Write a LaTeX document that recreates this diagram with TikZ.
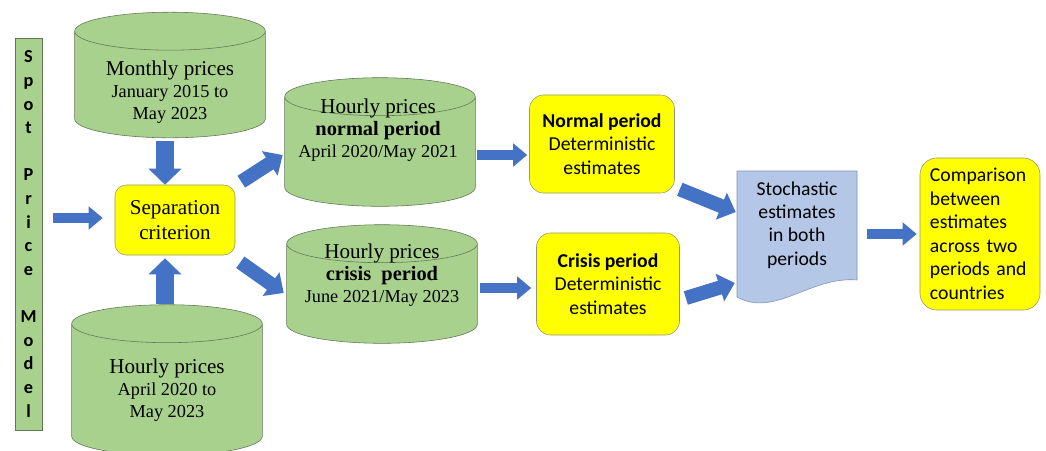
\documentclass[tikz,border=0pt]{standalone}
\usepackage{fontspec}
\setmainfont{Liberation Serif}
\setsansfont{Carlito}
\usetikzlibrary{arrows.meta,calc}

\definecolor{drumgreen}{RGB}{169,209,142}
\definecolor{drumline}{RGB}{96,118,84}
\definecolor{arrowblue}{RGB}{68,114,196}
\definecolor{boxyellow}{RGB}{255,255,0}
\definecolor{boxline}{RGB}{150,150,112}
\definecolor{docblue}{RGB}{180,199,231}
\definecolor{docline}{RGB}{128,146,180}

\tikzset{
  drum/.style={rectangle, minimum width=4.75cm, inner sep=0pt},
  drumtext/.style={align=center, inner sep=0pt, font=\fontsize{13}{15.6}\selectfont},
  ybox/.style={rectangle, rounded corners=10pt, draw=boxline, fill=boxyellow,
    align=center, inner sep=0pt},
  boxfont/.style={font=\sffamily\fontsize{14}{16.7}\selectfont},
  fatarrow/.style={draw=arrowblue, line width=7.8pt,
    -{Triangle[width=16pt,length=10pt]}},
  fatdiag/.style={draw=arrowblue, line width=10pt,
    -{Triangle[width=20pt,length=11pt]}},
  fatvert/.style={draw=arrowblue, line width=12.8pt,
    -{Triangle[width=22.8pt,length=11.4pt]}}
}

% cylinder outline round a named drum node
\newcommand\drumdraw[1]{%
  \draw[drumline, fill=drumgreen] let \p1=(#1.north west), \p2=(#1.south east),
    \n1={(\x2-\x1)/2} in
    (\x1,\y1-13.5pt) -- (\x1,\y2+13.5pt)
    arc[start angle=180, end angle=360, x radius=\n1, y radius=13.5pt]
    -- (\x2,\y1-13.5pt)
    arc[start angle=0, end angle=180, x radius=\n1, y radius=13.5pt] -- cycle
    (\x1,\y1-13.5pt)
    arc[start angle=180, end angle=360, x radius=\n1, y radius=13.5pt];
}

\begin{document}
\begin{tikzpicture}[x=0.025cm, y=-0.025cm]
  \useasboundingbox (0,0) rectangle (1046,450);

  % left bar
  \node[draw=drumline, fill=drumgreen, minimum width=0.675cm, minimum height=9.8cm,
    inner sep=0pt, align=center, font=\sffamily\bfseries\fontsize{13}{16.8}\selectfont]
    (spot) at (28.5,234) {S\\p\\o\\t\\[16.8pt]P\\r\\i\\c\\e\\[16.8pt]M\\o\\d\\e\\l};

  % price data
  \node[drum, minimum height=3.125cm] (monthly) at (170,75) {};
  \drumdraw{monthly}
  \node[drumtext] at (170,92) {{\fontsize{15}{15.6}\selectfont Monthly prices}\\January 2015 to\\May 2023};

  \node[drum, minimum height=3.75cm] (hall) at (167,380) {};
  \drumdraw{hall}
  \node[drumtext] at (167,390) {{\fontsize{15}{15.6}\selectfont Hourly prices}\\April 2020 to\\May 2023};

  \node[ybox, rounded corners=8pt, minimum width=3cm, minimum height=1.75cm,
    font=\fontsize{15}{17.7}\selectfont] (sep) at (175,220) {Separation\\criterion};

  \node[drum, minimum height=3.2cm] (hnormal) at (380,142) {};
  \drumdraw{hnormal}
  \node[drumtext] at (378,130) {{\fontsize{15}{15.6}\selectfont Hourly prices}\\{\bfseries\fontsize{14.5}{15.6}\selectfont normal period}\\April 2020/May 2021};

  \node[drum, minimum height=2.95cm] (hcrisis) at (382,284) {};
  \drumdraw{hcrisis}
  \node[drumtext] at (382,275) {{\fontsize{15}{15.6}\selectfont Hourly prices}\\{\bfseries\fontsize{14.5}{15.6}\selectfont crisis\ \ period}\\June 2021/May 2023};

  % estimates
  \node[ybox, boxfont, minimum width=3.625cm, minimum height=2.45cm] (nbox) at (602,144)
    {\textbf{Normal period}\\Deterministic\\estimates};
  \node[ybox, boxfont, minimum width=3.575cm, minimum height=2.55cm] (cbox) at (608,284)
    {\textbf{Crisis period}\\Deterministic\\estimates};

  \draw[draw=docline, fill=docblue] (737,171) -- (857,171) -- (857,280)
    .. controls (810,276) and (775,318) .. (737,297) -- cycle;
  \node[boxfont, align=center, minimum width=3cm, minimum height=2.75cm, inner sep=0pt]
    (stoch) at (797,225) {Stochastic\\estimates\\in both\\periods};

  \node[ybox, boxfont, rounded corners=12pt, minimum width=3cm, minimum height=3.8cm,
    text width=2.5cm, align=left] (comp) at (980,234)
    {Comparison\\between\\estimates\\across two\\periods and\\countries};

  % block arrows
  \draw[fatarrow] ($(spot.east)+(11,-16)$) -- ($(sep.west)+(-12,-2)$);
  \draw[fatvert] ($(monthly.south)+(-5,3)$) -- ($(sep.north)+(-10,0)$);
  \draw[fatvert] ($(hall.north)+(-2,-1)$) -- ($(sep.south)+(-10,3)$);
  \draw[fatdiag] ($(sep.north east)+(6,-3)$) -- ($(hnormal.west)+(-2,13)$);
  \draw[fatdiag] ($(sep.south east)+(5,7)$) -- ($(hcrisis.west)+(-3,9)$);
  \draw[fatarrow] ($(hnormal.east)+(2,13)$) -- ($(nbox.west)+(-2,11)$);
  \draw[fatarrow] ($(hcrisis.east)+(3,4)$) -- ($(cbox.west)+(-5,4)$);
  \draw[fatdiag] ($(nbox.south east)+(5,-4)$) -- ($(stoch.west)+(-1,-13)$);
  \draw[fatdiag] ($(cbox.east)+(6,14)$) -- ($(stoch.west)+(-2,58)$);
  \draw[fatarrow] ($(stoch.east)+(10,9)$) -- ($(comp.west)+(-3,0)$);
\end{tikzpicture}
\end{document}
